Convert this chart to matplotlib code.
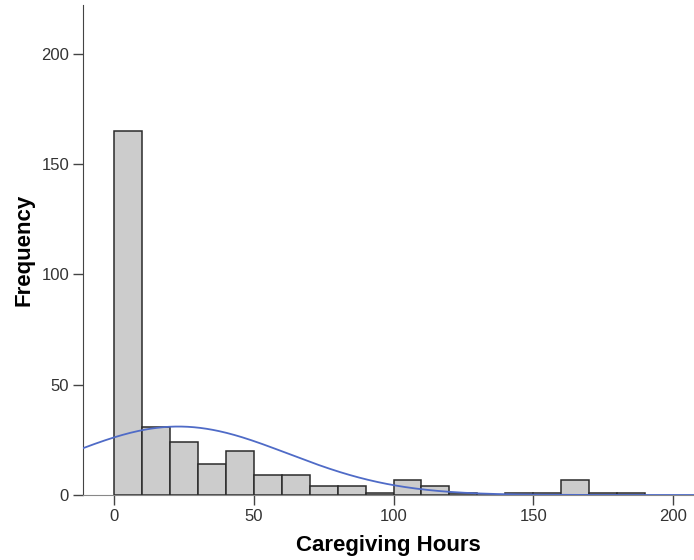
import matplotlib.pyplot as plt
import numpy as np

plt.rcParams['font.family'] = ['Liberation Sans', 'DejaVu Sans']

# histogram bins (hours, width 10) and counts
bin_edges = np.arange(0, 200, 10)
counts = [165, 31, 24, 14, 20, 9, 9, 4, 4, 1, 7, 4, 1, 0, 1, 1, 7, 1, 1]

# fitted normal curve parameters
mean_hours = 23.0
sd_hours = 39.1
n_cases = sum(counts)
bin_width = 10

fig = plt.figure(figsize=(6.94, 5.6), dpi=100)
ax = fig.add_axes([83 / 694, 1 - 495 / 560, 1 - 83 / 694, (495 - 5) / 560])

ax.bar(bin_edges[:-1], counts, width=bin_width, align='edge',
       color='#cccccc', edgecolor='#2b2b2b', linewidth=1.1, zorder=2)

xs = np.linspace(-12, 210, 400)
ys = n_cases * bin_width / (sd_hours * np.sqrt(2 * np.pi)) * \
    np.exp(-0.5 * ((xs - mean_hours) / sd_hours) ** 2)
ax.plot(xs, ys, color='#4f6bc7', linewidth=1.3, zorder=3)

ax.set_xlim(-11.1, 207.5)
ax.set_ylim(0, 222)
ax.set_xticks([0, 50, 100, 150, 200])
ax.set_yticks([0, 50, 100, 150, 200])

for s in ['top', 'right']:
    ax.spines[s].set_visible(False)
ax.spines['left'].set_color('#444444')
ax.spines['bottom'].set_color('#888888')
ax.tick_params(axis='both', direction='out', length=7, width=1,
               color='#444444', labelsize=12, labelcolor='#333333', pad=3)

ax.set_xlabel('Caregiving Hours', fontsize=16, fontweight='bold', labelpad=8)
ax.set_ylabel('Frequency', fontsize=16, fontweight='bold', labelpad=5)

fig.savefig('out.png', dpi=100)
